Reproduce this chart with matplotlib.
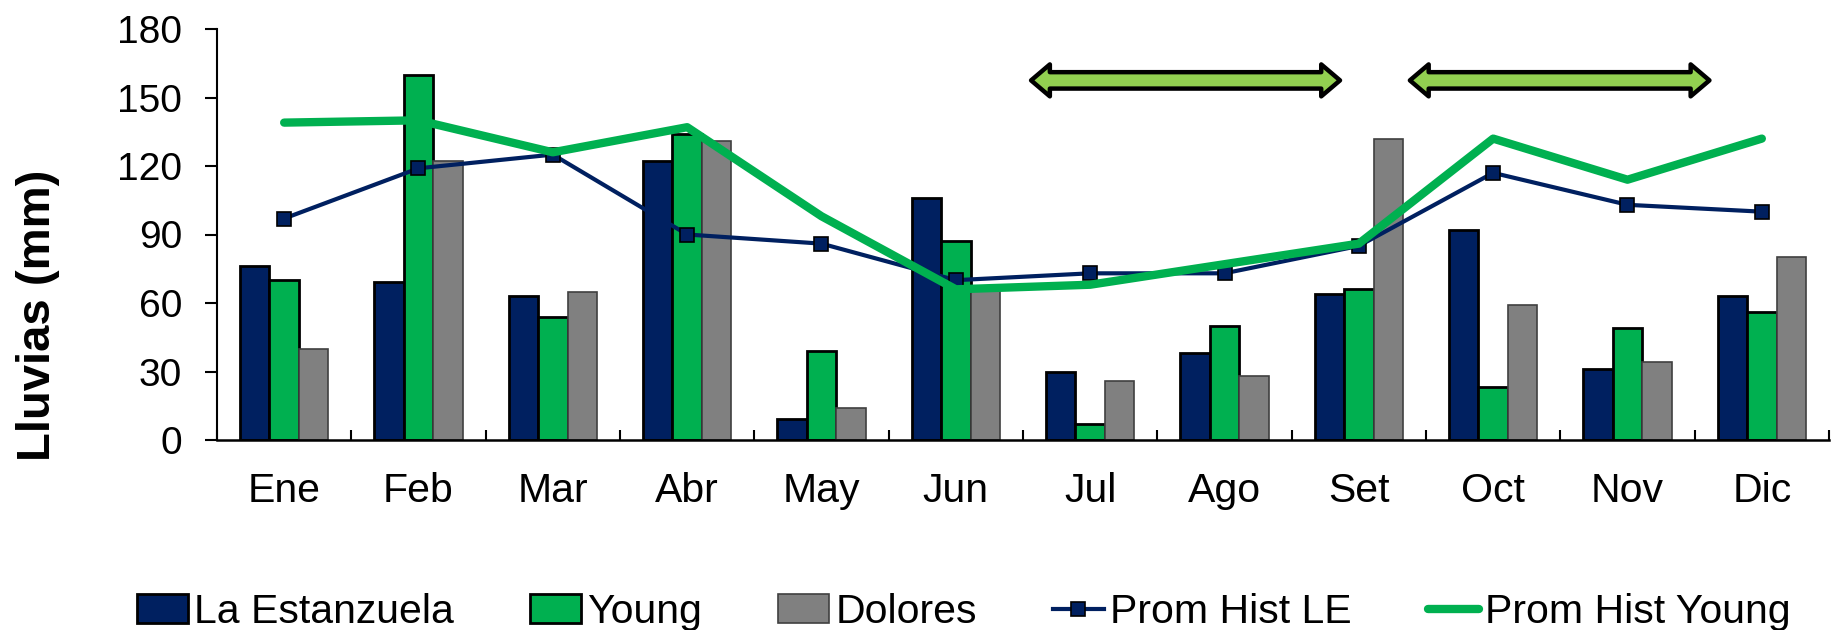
import matplotlib
matplotlib.use("Agg")
import matplotlib.pyplot as plt
from matplotlib.patches import Polygon
import numpy as np

plt.rcParams['font.family'] = ['Liberation Sans', 'DejaVu Sans']

months = ['Ene', 'Feb', 'Mar', 'Abr', 'May', 'Jun', 'Jul', 'Ago', 'Set', 'Oct', 'Nov', 'Dic']
la_estanzuela = [76, 69, 63, 122, 9, 106, 30, 38, 64, 92, 31, 63]
young = [70, 160, 54, 134, 39, 87, 7, 50, 66, 23, 49, 56]
dolores = [40, 122, 65, 131, 14, 66, 26, 28, 132, 59, 34, 80]
prom_hist_le = [97, 119, 125, 90, 86, 70, 73, 73, 85, 117, 103, 100]
prom_hist_young = [139, 140, 126, 137, 98, 66, 68, 77, 86, 132, 114, 132]

# periods marked with the double arrows (in category units)
arrow_spans = [(5.56, 7.86), (8.38, 10.61)]
arrow_level = 157.5

navy = '#002060'
green = '#00B050'
gray = '#808080'

fig = plt.figure(figsize=(18.41, 6.3), dpi=100)
ax = fig.add_axes([217 / 1841, 1 - 440 / 630, 1612 / 1841, 411 / 630])

x = np.arange(len(months))
w = 0.22
b1 = ax.bar(x - w, la_estanzuela, w, color=navy, edgecolor='black', linewidth=2, label='La Estanzuela', zorder=2)
b2 = ax.bar(x, young, w, color=green, edgecolor='black', linewidth=2, label='Young', zorder=2)
b3 = ax.bar(x + w, dolores, w, color=gray, edgecolor='#404040', linewidth=1.2, label='Dolores', zorder=2)

l1, = ax.plot(x, prom_hist_le, color=navy, linewidth=3, marker='s', markersize=10,
              markerfacecolor=navy, markeredgecolor='black', markeredgewidth=1.2,
              label='Prom Hist LE', zorder=3)
l2, = ax.plot(x, prom_hist_young, color=green, linewidth=6, solid_capstyle='round',
              label='Prom Hist Young', zorder=4)

# double arrows
head_len, head_half, shaft_half = 0.14, 7.0, 3.6
for x0, x1 in arrow_spans:
    yc = arrow_level
    verts = [(x0, yc), (x0 + head_len, yc + head_half), (x0 + head_len, yc + shaft_half),
             (x1 - head_len, yc + shaft_half), (x1 - head_len, yc + head_half), (x1, yc),
             (x1 - head_len, yc - head_half), (x1 - head_len, yc - shaft_half),
             (x0 + head_len, yc - shaft_half), (x0 + head_len, yc - head_half)]
    ax.add_patch(Polygon(verts, closed=True, facecolor='#92D050', edgecolor='black',
                         linewidth=3.2, joinstyle='round', zorder=5, clip_on=False))

ax.set_xlim(-0.5, len(months) - 0.5)
ax.set_ylim(0, 180)
ax.set_yticks(np.arange(0, 181, 30))
ax.set_xticks(x)
ax.set_xticklabels(months)
ax.set_xticks(np.arange(-0.5, len(months), 1), minor=True)

ax.tick_params(axis='x', which='major', length=0, pad=23, labelsize=29.5)
ax.tick_params(axis='x', which='minor', direction='in', length=7, width=1.5)
ax.tick_params(axis='y', direction='out', length=9, width=1.5, pad=16, labelsize=28)

for s in ['top', 'right']:
    ax.spines[s].set_visible(False)
ax.spines['left'].set_linewidth(1.5)
ax.spines['bottom'].set_linewidth(1.8)

fig.text(38 / 1841, 0.5, 'Lluvias (mm)', rotation=90, ha='center', va='center',
         fontsize=34, fontweight='bold')

fig.legend([b1, b2, b3, l1, l2],
           ['La Estanzuela', 'Young', 'Dolores', 'Prom Hist LE', 'Prom Hist Young'],
           loc='center left', bbox_to_anchor=(137 / 1841, 1 - 612 / 630), ncol=5,
           frameon=False, fontsize=29.5, handlelength=1.25, handletextpad=0.15,
           columnspacing=1.85, borderpad=0, borderaxespad=0, handleheight=0.7)

fig.savefig('out.png', dpi=100)
